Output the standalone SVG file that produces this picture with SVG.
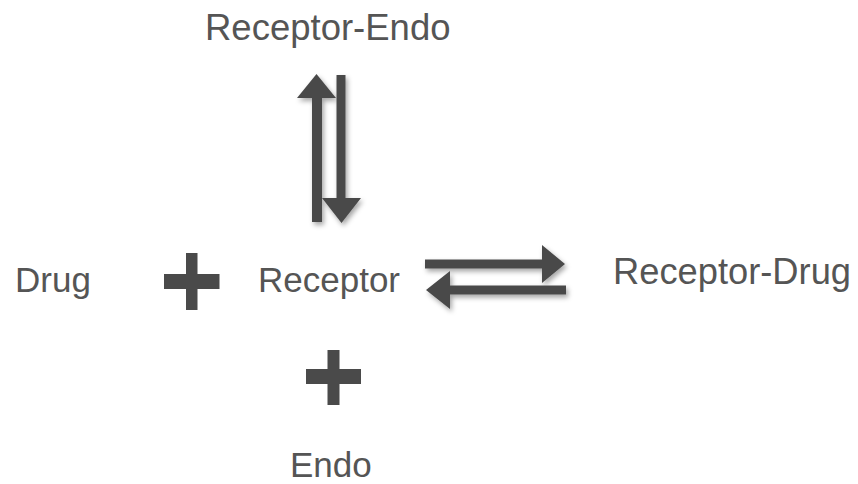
<svg xmlns="http://www.w3.org/2000/svg" width="858" height="484" viewBox="0 0 858 484">
  <defs>
    <filter id="shadow" x="-30%" y="-30%" width="160%" height="160%">
      <feDropShadow dx="2" dy="3" stdDeviation="2.5" flood-color="#000" flood-opacity="0.35"/>
    </filter>
  </defs>
  <style>
    .label { font-family: "Liberation Sans", Arial, sans-serif; font-size: 35px; fill: #555555; }
    .arrow { fill: #4a4a4a; filter: url(#shadow); }
    .plus { fill: #4a4a4a; }
  </style>
  <rect width="858" height="484" fill="#ffffff"/>

  <g id="receptor-endo"><text class="label" x="205" y="40" style="font-size:36.5px">Receptor-Endo</text></g>
  <g id="drug"><text class="label" x="15" y="292">Drug</text></g>
  <g id="receptor"><text class="label" x="258" y="292">Receptor</text></g>
  <g id="receptor-drug"><text class="label" x="613" y="284" style="font-size:36.3px">Receptor-Drug</text></g>
  <g id="endo"><text class="label" x="290" y="477">Endo</text></g>

  <g id="plus-drug">
    <rect class="plus" x="186" y="253" width="11.5" height="57"/>
    <rect class="plus" x="164" y="274" width="55.5" height="15"/>
  </g>
  <g id="plus-endo">
    <rect class="plus" x="327.5" y="350" width="12" height="55"/>
    <rect class="plus" x="306" y="369" width="55" height="15"/>
  </g>

  <g id="connectors">
    <!-- Receptor <-> Receptor-Endo equilibrium -->
    <path class="arrow" d="M312,222 L312,98 L297,98 L316.5,74 L336,98 L322,98 L322,222 Z"/>
    <path class="arrow" d="M336.5,75 L345.5,75 L345.5,198 L361,198 L341.5,223 L322,198 L336.5,198 Z"/>
    <!-- Receptor <-> Receptor-Drug equilibrium -->
    <path class="arrow" d="M425,259.5 L542,259.5 L542,245 L565,264 L542,283 L542,268.5 L425,268.5 Z"/>
    <path class="arrow" d="M566,285.5 L450,285.5 L450,271 L426,290 L450,309 L450,294.5 L566,294.5 Z"/>
  </g>
</svg>
